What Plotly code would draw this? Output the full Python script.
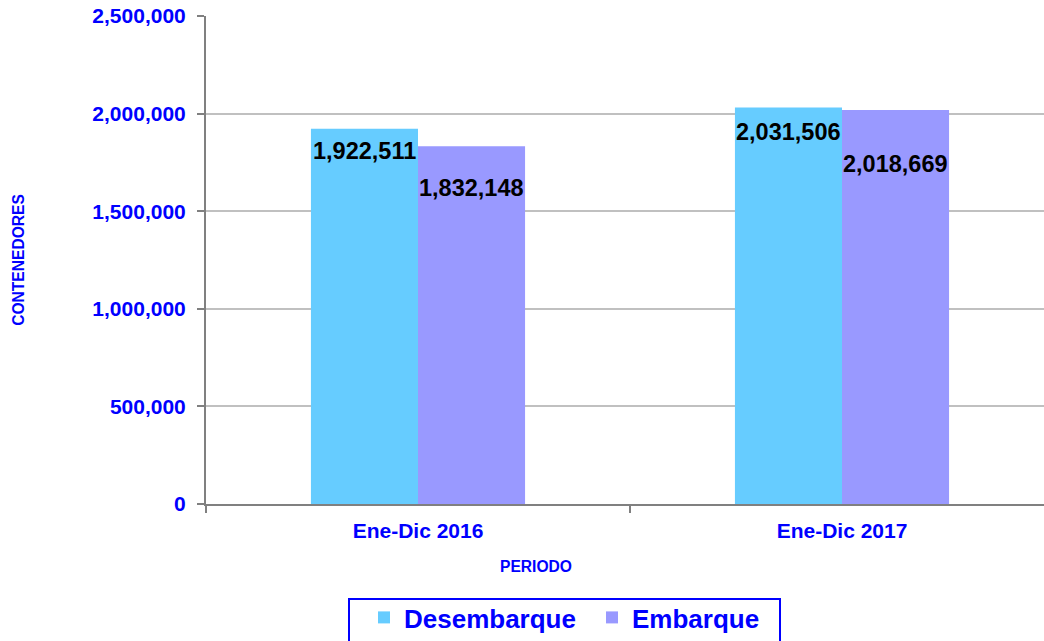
import plotly.graph_objects as go

categories = ["Ene-Dic 2016", "Ene-Dic 2017"]
desembarque = [1922511, 2031506]
embarque = [1832148, 2018669]
series_names = ["Desembarque", "Embarque"]
y_ticks = [0, 500000, 1000000, 1500000, 2000000, 2500000]

colors = ["#66CCFF", "#9999FF"]
blue = "#0000FF"
font_family = "Liberation Sans, Arial, sans-serif"
bargap = 0.495
# vertical offsets (px) of the data labels below each bar top, per series and category
label_shift = [[-22, -25], [-42, -54]]

W, H = 1044, 641
ML, MT, MB = 206, 16, 137
plot_w = W - ML
plot_h = H - MT - MB


def px_x(px):
    return (px - ML) / plot_w


def px_y(py):
    return -(py - (H - MB)) / plot_h


fig = go.Figure()
legend_ids = ["legend", "legend2"]
for name, vals, col, lg in zip(series_names, [desembarque, embarque], colors, legend_ids):
    fig.add_trace(go.Bar(x=categories, y=vals, name=name, marker=dict(color=col, line=dict(width=0)),
                         hoverinfo="x+y", legend=lg))

# data labels
half = (1 - bargap) / 4
for s, vals in enumerate([desembarque, embarque]):
    for i, v in enumerate(vals):
        fig.add_annotation(x=i + (-half if s == 0 else half), y=v, xref="x", yref="y",
                           text=f"{v:,}", showarrow=False, yanchor="middle", xanchor="center",
                           yshift=label_shift[s][i],
                           font=dict(family=font_family, size=23.5, color="black", weight="bold"))

fig.add_annotation(x=px_x(536), y=px_y(566), xref="paper", yref="paper",
                   text="<b>PERIODO</b>", showarrow=False, xanchor="center", yanchor="middle",
                   font=dict(family=font_family, size=15.6, color=blue))

# legend frame
fig.add_shape(type="rect", xref="paper", yref="paper", x0=px_x(349), x1=px_x(780),
              y0=px_y(599), y1=px_y(650), line=dict(color=blue, width=2), fillcolor="rgba(0,0,0,0)",
              layer="above")

legend_font = dict(family=font_family, size=26, color=blue, weight="bold")
fig.update_layout(
    template="none",
    width=W, height=H,
    margin=dict(l=ML, r=0, t=MT, b=MB, autoexpand=False),
    paper_bgcolor="white", plot_bgcolor="white",
    barmode="group", bargap=bargap, bargroupgap=0,
    font=dict(family=font_family, color=blue),
    showlegend=True,
    legend=dict(orientation="h", x=px_x(364), xanchor="left", y=px_y(594), yanchor="top",
                borderwidth=0, bgcolor="rgba(0,0,0,0)", font=legend_font),
    legend2=dict(orientation="h", x=px_x(592), xanchor="left", y=px_y(594), yanchor="top",
                 borderwidth=0, bgcolor="rgba(0,0,0,0)", font=legend_font),
    xaxis=dict(type="category", range=[-0.5, 1.5 - 10 / 424], showgrid=False,
               showline=True, linecolor="#808080", linewidth=2,
               ticks="outside", tickson="boundaries", ticklen=7, tickcolor="#808080", tickwidth=2,
               tickfont=dict(family=font_family, size=21, color=blue, weight="bold"),
               ticklabelstandoff=7,
               automargin=False, zeroline=False),
    yaxis=dict(range=[0, 2500000], tickvals=y_ticks, ticktext=[f"{t:,}" for t in y_ticks],
               showgrid=True, gridcolor="#C0C0C0", gridwidth=2,
               showline=True, linecolor="#808080", linewidth=2,
               ticks="outside", ticklen=7, tickcolor="#808080", tickwidth=2,
               tickfont=dict(family=font_family, size=21, color=blue, weight="bold"),
               ticklabelstandoff=7,
               title=dict(text="<b>CONTENEDORES</b>", font=dict(family=font_family, size=15.6, color=blue),
                          standoff=64),
               automargin=False, zeroline=False),
)

fig.write_html("out.html", config={"displayModeBar": False},
               post_script="document.body.style.margin='0px';")
